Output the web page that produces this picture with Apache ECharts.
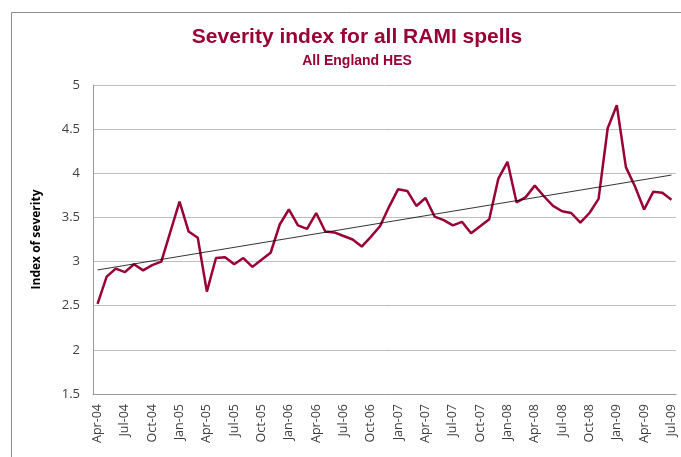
<!DOCTYPE html>
<html>
<head>
<meta charset="utf-8">
<script src="https://cdn.jsdelivr.net/npm/echarts@6/dist/echarts.min.js"></script>
<style>
  html, body { margin: 0; padding: 0; background: #fff; }
  #chart { width: 681px; height: 457px; }
</style>
</head>
<body>
<div id="chart"></div>
<script>
// monthly categories Apr-04 .. Jul-09
const months = [
  'Apr-04', 'May-04', 'Jun-04', 'Jul-04', 'Aug-04', 'Sep-04', 'Oct-04', 'Nov-04', 'Dec-04',
  'Jan-05', 'Feb-05', 'Mar-05', 'Apr-05', 'May-05', 'Jun-05', 'Jul-05', 'Aug-05', 'Sep-05',
  'Oct-05', 'Nov-05', 'Dec-05', 'Jan-06', 'Feb-06', 'Mar-06', 'Apr-06', 'May-06', 'Jun-06',
  'Jul-06', 'Aug-06', 'Sep-06', 'Oct-06', 'Nov-06', 'Dec-06', 'Jan-07', 'Feb-07', 'Mar-07',
  'Apr-07', 'May-07', 'Jun-07', 'Jul-07', 'Aug-07', 'Sep-07', 'Oct-07', 'Nov-07', 'Dec-07',
  'Jan-08', 'Feb-08', 'Mar-08', 'Apr-08', 'May-08', 'Jun-08', 'Jul-08', 'Aug-08', 'Sep-08',
  'Oct-08', 'Nov-08', 'Dec-08', 'Jan-09', 'Feb-09', 'Mar-09', 'Apr-09', 'May-09', 'Jun-09',
  'Jul-09'
]

// severity index
const severity = [
  2.52, 2.83, 2.92, 2.88, 2.97, 2.90, 2.96, 3.00, 3.34,
  3.68, 3.34, 3.27, 2.66, 3.04, 3.05, 2.97, 3.04, 2.94,
  3.02, 3.10, 3.42, 3.59, 3.41, 3.37, 3.55, 3.34, 3.33,
  3.29, 3.25, 3.17, 3.28, 3.40, 3.62, 3.82, 3.80, 3.63,
  3.72, 3.51, 3.47, 3.41, 3.45, 3.32, 3.40, 3.48, 3.94,
  4.13, 3.67, 3.73, 3.86, 3.74, 3.63, 3.57, 3.55, 3.44,
  3.55, 3.71, 4.51, 4.77, 4.07, 3.85, 3.59, 3.79, 3.78,
  3.70
]

// linear trend end values (first and last month)
const trendEnds = [2.905, 3.98]

const yTicks = { min: 1.5, max: 5, step: 0.5 }

// 颜色
const mainColor = '#990033'
const labelColor = '#404040'
const gridColor = '#bfbfbf'

const chart = echarts.init(document.getElementById('chart'))

chart.setOption({
  animation: false,
  backgroundColor: '#fff',
  graphic: [{
    type: 'rect',
    shape: { x: 11.5, y: 12.5, width: 700, height: 470 },
    style: { fill: 'none', stroke: '#8c8c8c', lineWidth: 1 },
    silent: true
  }],
  title: [{
    text: 'Severity index for all RAMI spells',
    left: 352,
    textAlign: 'center',
    top: 22,
    textStyle: {
      color: mainColor,
      fontFamily: 'Liberation Sans',
      fontWeight: 'bold',
      fontSize: 21
    }
  }, {
    text: 'All England HES',
    left: 352,
    textAlign: 'center',
    top: 49,
    textStyle: {
      color: mainColor,
      fontFamily: 'Liberation Sans',
      fontWeight: 'bold',
      fontSize: 14
    }
  }],
  grid: {
    left: 93,
    right: 5,
    top: 85,
    bottom: 63,
    containLabel: false
  },
  xAxis: {
    type: 'category',
    data: months,
    boundaryGap: true,
    axisLine: { lineStyle: { color: '#999999', width: 1 } },
    axisTick: { show: false },
    axisLabel: {
      interval: 2,
      rotate: 90,
      color: labelColor,
      fontFamily: 'Open Sans',
      fontSize: 12.5,
      margin: 10
    },
    splitLine: { show: false }
  },
  yAxis: {
    type: 'value',
    min: yTicks.min,
    max: yTicks.max,
    interval: yTicks.step,
    name: 'Index of severity',
    nameLocation: 'middle',
    nameRotate: 90,
    nameGap: 50,
    nameTextStyle: {
      color: '#000',
      fontFamily: 'Open Sans',
      fontWeight: 'bold',
      fontSize: 12
    },
    axisLine: { show: true, lineStyle: { color: '#999999' } },
    axisTick: { show: false },
    axisLabel: {
      color: labelColor,
      fontFamily: 'Open Sans',
      fontSize: 13,
      margin: 13
    },
    splitLine: { lineStyle: { color: gridColor, width: 1 } }
  },
  series: [{
    name: 'Severity index',
    type: 'line',
    data: severity,
    symbol: 'none',
    lineStyle: { color: mainColor, width: 2.5 },
    z: 3
  }, {
    name: 'Trend',
    type: 'line',
    data: [[0, trendEnds[0]], [months.length - 1, trendEnds[1]]],
    symbol: 'none',
    lineStyle: { color: '#000', width: 0.8 },
    z: 4
  }]
})
</script>
</body>
</html>
